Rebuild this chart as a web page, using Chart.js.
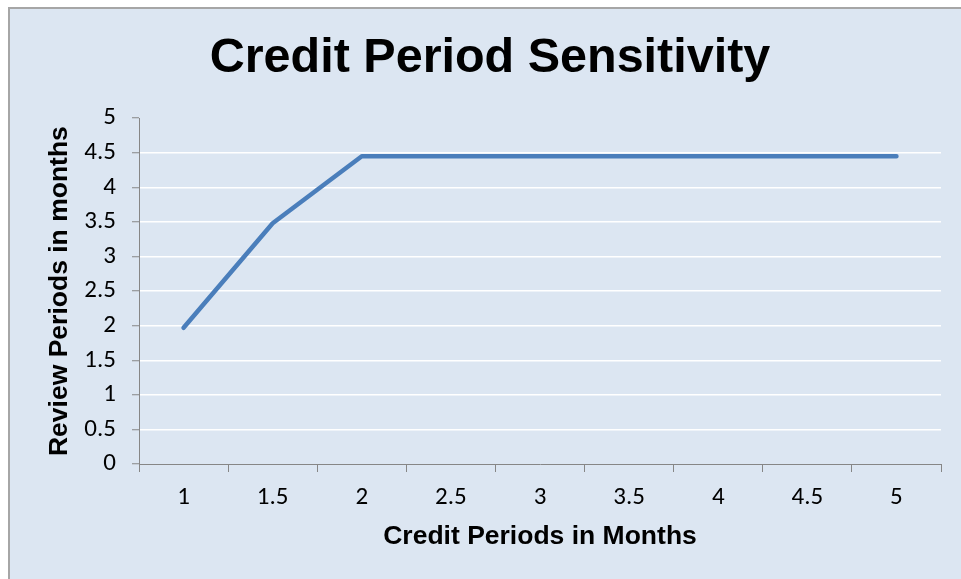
<!DOCTYPE html>
<html>
<head>
<meta charset="utf-8">
<title>Credit Period Sensitivity</title>
<script src="https://cdn.jsdelivr.net/npm/chart.js@4/dist/chart.umd.min.js"></script>
<style>
  html, body { margin: 0; padding: 0; background: #ffffff; overflow: hidden; }
  #frame {
    position: absolute; left: 8px; top: 7px;
    width: 960px; height: 570px;
    border-left: 2px solid #a6a6a6; border-top: 2px solid #a6a6a6;
    background: #dce6f2;
  }
  canvas { display: block; }
</style>
</head>
<body>
<div id="frame"><canvas id="chart" width="960" height="570"></canvas></div>
<script>
// Credit period (months) on the x axis
const creditPeriods = ['1', '1.5', '2', '2.5', '3', '3.5', '4', '4.5', '5'];
// Review period (months) for each credit period
const reviewPeriods = [1.97, 3.48, 4.45, 4.45, 4.45, 4.45, 4.45, 4.45, 4.45];
// Value axis range and step
const yMin = 0;
const yMax = 5;
const yStep = 0.5;

const chartTitle = 'Credit Period Sensitivity';
const xTitle = 'Credit Periods in Months';
const yTitle = 'Review Periods in months';

const axisGray = '#868686';
const tickFont = { family: 'Carlito, Lato, "Open Sans", sans-serif', size: 25 };
const boldFont = (size) => ({ family: '"Liberation Sans", Arial, sans-serif', size: size, weight: 'bold' });

new Chart(document.getElementById('chart'), {
  type: 'line',
  data: {
    labels: creditPeriods,
    datasets: [{
      data: reviewPeriods,
      yAxisID: 'y',
      borderColor: '#4a7ebb',
      borderWidth: 4.5,
      borderCapStyle: 'round',
      borderJoinStyle: 'round',
      pointRadius: 0,
      pointHoverRadius: 0,
      tension: 0,
      fill: false
    }]
  },
  options: {
    responsive: false,
    animation: false,
    devicePixelRatio: 1,
    layout: { padding: 0 },
    plugins: {
      legend: { display: false },
      tooltip: { enabled: false },
      title: {
        display: true,
        text: chartTitle,
        color: '#000000',
        font: boldFont(48.5),
        padding: { top: 21, bottom: 30 }
      }
    },
    scales: {
      x: {
        type: 'category',
        offset: true,
        grid: {
          offset: true,
          drawOnChartArea: false,
          drawTicks: true,
          tickLength: 8,
          tickColor: axisGray,
          tickWidth: 1
        },
        border: { color: axisGray, width: 1 },
        ticks: { color: '#000000', font: tickFont, padding: 11, maxRotation: 0 },
        title: {
          display: true,
          text: xTitle,
          color: '#000000',
          font: boldFont(26.5),
          padding: { top: 0, bottom: 26 }
        },
        afterFit: (scale) => { scale.height = 115; }
      },
      y: {
        min: yMin,
        max: yMax,
        grid: {
          color: (ctx) => (ctx.tick && (ctx.tick.value === yMin || ctx.tick.value === yMax)) ? 'rgba(0,0,0,0)' : '#ffffff',
          lineWidth: 1.5,
          drawTicks: true,
          tickLength: 7,
          tickColor: axisGray,
          tickWidth: 1
        },
        border: { color: axisGray, width: 1 },
        ticks: {
          stepSize: yStep,
          color: '#000000',
          font: tickFont,
          padding: 16,
          callback: (v) => String(v)
        },
        title: {
          display: true,
          text: yTitle,
          color: '#000000',
          font: boldFont(26.5),
          padding: { top: 34, bottom: 0 }
        },
        afterFit: (scale) => { scale.width = 129; }
      },
      // empty margin on the right side of the plot area
      rightMargin: {
        position: 'right',
        display: true,
        min: yMin,
        max: yMax,
        grid: { display: false },
        border: { display: false },
        ticks: { display: false },
        afterFit: (scale) => { scale.width = 29; }
      }
    }
  }
});
</script>
</body>
</html>
